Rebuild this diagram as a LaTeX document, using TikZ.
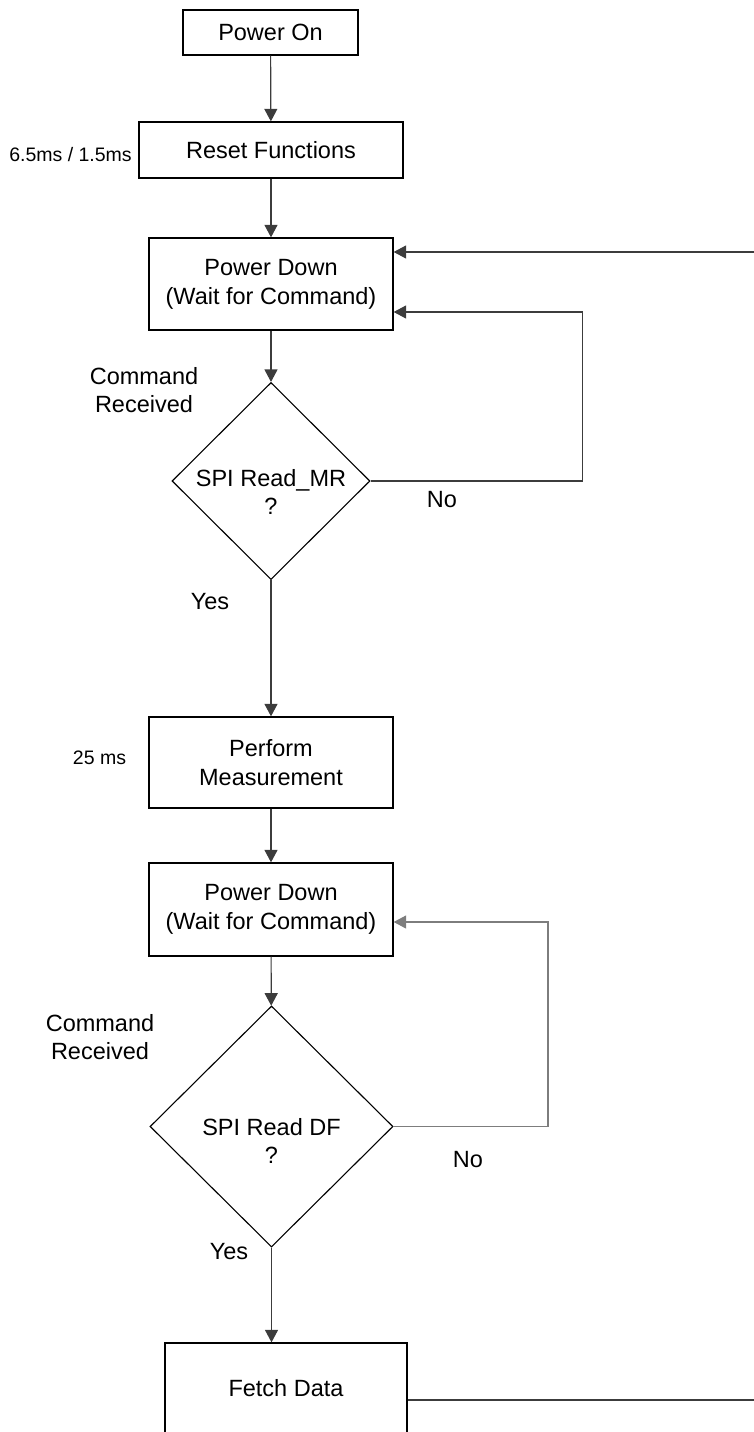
\documentclass[tikz,border=0pt]{standalone}
\usepackage{fontspec}
\setmainfont{Liberation Sans}
\usepackage{tikz}
\usetikzlibrary{arrows.meta, positioning, shapes.geometric, calc}
\definecolor{linegray}{RGB}{60,60,60}
\definecolor{loopgray}{RGB}{125,125,125}

\begin{document}
\begin{tikzpicture}[x=1pt, y=-1pt,
    box/.style={draw, rectangle, line width=1.3pt, inner sep=0pt, align=center, font=\fontsize{23.5}{29}\selectfont},
    decision/.style={draw, diamond, line width=1.1pt, inner sep=0pt},
    lbl/.style={align=center, font=\fontsize{23.5}{28}\selectfont},
    timing/.style={font=\fontsize{19.5}{24}\selectfont},
    flow/.style={-{Triangle[length=12.5pt, width=13pt]}, line width=1.2pt, linegray}]
  \useasboundingbox (0,0) rectangle (754,1432);

  \node[box, minimum width=175pt, minimum height=45pt] (pwron) at (270.5,32.5) {Power On};
  \node[box, minimum width=264pt, minimum height=56pt] (reset) at (271,150) {Reset Functions};
  \node[box, minimum width=244pt, minimum height=92pt] (pdown1) at (271,284) {Power Down\\(Wait for Command)};
  \node[decision, minimum width=198pt, minimum height=197pt,
        label={[lbl, yshift=-11pt]center:SPI Read\_MR\\?}] (dec1) at (271,481) {};
  \node[box, minimum width=244pt, minimum height=91pt] (measure) at (271,762.5) {Perform\\Measurement};
  \node[box, minimum width=244pt, minimum height=93pt] (pdown2) at (271,909.5) {Power Down\\(Wait for Command)};
  \node[decision, minimum width=243pt, minimum height=241pt,
        label={[lbl, yshift=-14pt]center:SPI Read DF\\?}] (dec2) at (271.5,1126.5) {};
  \node[box, minimum width=242pt, minimum height=91pt] (fetch) at (286,1388.5) {Fetch Data};

  % side labels
  \node[timing] (treset) at (70.5,155) {6.5ms / 1.5ms};
  \node[timing] (tmeas) at (99.5,758) {25 ms};
  \node[lbl] (cmd1) at (144,390) {Command\\Received};
  \node[lbl] (yes1) at (210,602) {Yes};
  \node[lbl] (no1) at (442,500) {No};
  \node[lbl] (cmd2) at (100,1037) {Command\\Received};
  \node[lbl] (yes2) at (229,1252) {Yes};
  \node[lbl] (no2) at (468,1160) {No};

  \coordinate (inR) at (754,252);
  \coordinate (outR) at (754,1400);

  \draw[flow] (pwron) -- (reset);
  \draw[flow] (reset) -- (pdown1);
  \draw[flow] (pdown1) -- (dec1);
  \draw[flow] (dec1) -- (measure);
  \draw[flow] (measure) -- (pdown2);
  \draw[flow] (pdown2) -- (dec2);
  \draw[flow] (dec2.south) -- (dec2.south |- fetch.north);
  \draw[flow] (dec1.east) -- ++(212,0) |- ([yshift=-28pt]pdown1.east);
  \draw[flow, loopgray] (dec2.east) -- ++(154.5,0) |- ([yshift=-12.5pt]pdown2.east);
  \draw[flow] (inR) -- (inR -| pdown1.east);
  \draw[line width=1.2pt, linegray] ([yshift=-11.5pt]fetch.east) -- (outR);
\end{tikzpicture}
\end{document}
